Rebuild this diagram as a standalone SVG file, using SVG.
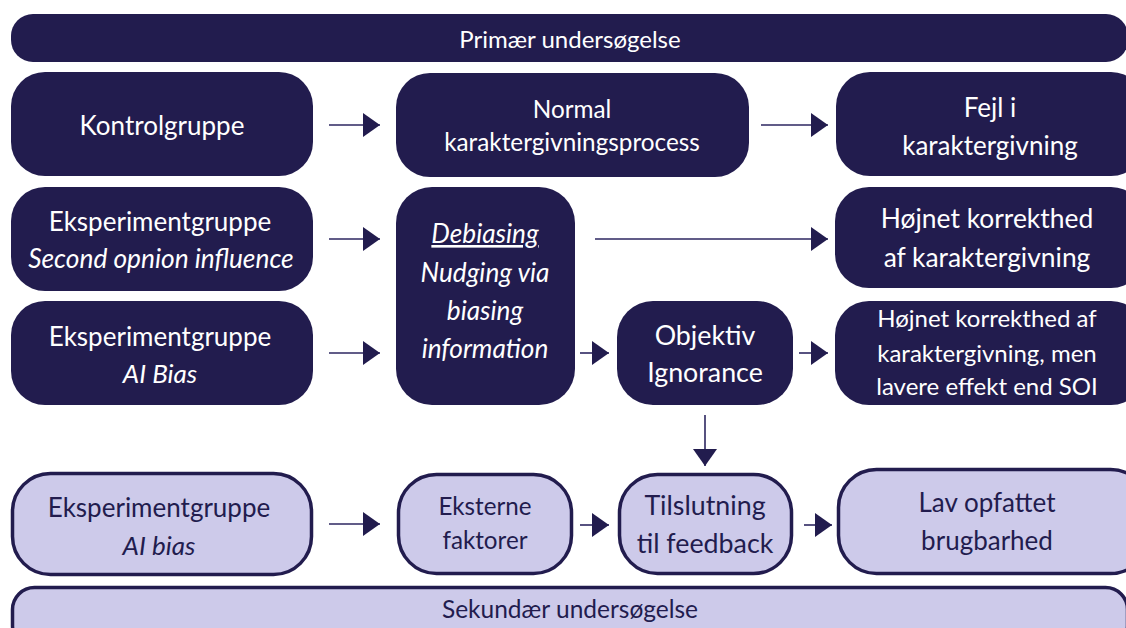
<svg xmlns="http://www.w3.org/2000/svg" width="1126" height="628" viewBox="0 0 1126 628">
<defs>
<style>
.dk{fill:#221c4e}
.lt{fill:#cdcaea;stroke:#221c4e;stroke-width:3.5}
text{font-family:Lato,"Liberation Sans",sans-serif;text-anchor:middle}
.w{fill:#ffffff}
.d{fill:#221c4e}
.i{font-style:italic}
.con{stroke:#2c2660;stroke-width:1.6;fill:none;marker-end:url(#ah)}
</style>
<marker id="ah" markerUnits="userSpaceOnUse" markerWidth="18" markerHeight="24" refX="17" refY="12" orient="auto" viewBox="0 0 18 24">
<path d="M0,0 L17,12 L0,24 Z" fill="#221c4e"/>
</marker>
</defs>
<rect width="1126" height="628" fill="#ffffff"/>

<g id="primaer">
<rect class="dk" x="11" y="14" width="1117" height="48" rx="22"/>
<text class="w" x="570" y="48" font-size="24">Primær undersøgelse</text>
</g>

<g id="kontrolgruppe">
<rect class="dk" x="11" y="72" width="302" height="104" rx="34"/>
<text class="w" x="162" y="135" font-size="26">Kontrolgruppe</text>
</g>

<g id="normal">
<rect class="dk" x="396" y="73" width="353" height="104" rx="34"/>
<text class="w" x="572" y="118" font-size="24.3">Normal</text>
<text class="w" x="572" y="151" font-size="24.3">karaktergivningsprocess</text>
</g>

<g id="fejl">
<rect class="dk" x="836" y="72" width="309" height="104" rx="34"/>
<text class="w" x="990" y="117" font-size="26">Fejl i</text>
<text class="w" x="990" y="155" font-size="26">karaktergivning</text>
</g>

<g id="eksp-soi">
<rect class="dk" x="11" y="187" width="302" height="104" rx="34"/>
<text class="w" x="160" y="231" font-size="26">Eksperimentgruppe</text>
<text class="w i" x="161" y="268" font-size="26.3">Second opnion influence</text>
</g>

<g id="eksp-ai">
<rect class="dk" x="11" y="301" width="302" height="104" rx="34"/>
<text class="w" x="160" y="346" font-size="26">Eksperimentgruppe</text>
<text class="w i" x="160" y="383" font-size="26">AI Bias</text>
</g>

<g id="debiasing">
<rect class="dk" x="396" y="187" width="179" height="218" rx="36"/>
<text class="w i" x="485" y="243" font-size="26.2" text-decoration="underline">Debiasing</text>
<text class="w i" x="485" y="282" font-size="26.2">Nudging via</text>
<text class="w i" x="485" y="320" font-size="26.2">biasing</text>
<text class="w i" x="485" y="358" font-size="26.2">information</text>
</g>

<g id="hoejnet1">
<rect class="dk" x="835" y="187" width="310" height="101" rx="34"/>
<text class="w" x="987" y="228" font-size="26.4">Højnet korrekthed</text>
<text class="w" x="987" y="267" font-size="26.4">af karaktergivning</text>
</g>

<g id="objektiv">
<rect class="dk" x="617" y="301" width="176" height="104" rx="36"/>
<text class="w" x="705" y="345" font-size="26.8">Objektiv</text>
<text class="w" x="705" y="382" font-size="26.8">Ignorance</text>
</g>

<g id="hoejnet2">
<rect class="dk" x="835" y="301" width="310" height="104" rx="34"/>
<text class="w" x="987" y="327" font-size="24">Højnet korrekthed af</text>
<text class="w" x="987" y="362" font-size="24">karaktergivning, men</text>
<text class="w" x="987" y="395" font-size="24">lavere effekt end SOI</text>
</g>

<g id="eksp-ai-bias">
<rect class="lt" x="12.5" y="473.5" width="299" height="101" rx="38"/>
<text class="d" x="159" y="517" font-size="26">Eksperimentgruppe</text>
<text class="d i" x="159" y="555" font-size="26">AI bias</text>
</g>

<g id="eksterne">
<rect class="lt" x="398.5" y="474.5" width="173" height="99" rx="38"/>
<text class="d" x="485" y="515" font-size="24.2">Eksterne</text>
<text class="d" x="485" y="549" font-size="24.2">faktorer</text>
</g>

<g id="tilslutning">
<rect class="lt" x="619.5" y="474.5" width="172" height="99" rx="38"/>
<text class="d" x="705" y="515" font-size="26.8">Tilslutning</text>
<text class="d" x="705" y="553" font-size="26.8">til feedback</text>
</g>

<g id="lav">
<rect class="lt" x="838.5" y="469.5" width="310" height="104" rx="38"/>
<text class="d" x="987" y="512" font-size="26">Lav opfattet</text>
<text class="d" x="987" y="550" font-size="26">brugbarhed</text>
</g>

<g id="sekundaer">
<rect class="lt" x="12.5" y="587.5" width="1115" height="60" rx="22"/>
<text class="d" x="570" y="618" font-size="24.5">Sekundær undersøgelse</text>
</g>

<g id="connectors">
<line class="con" x1="329" y1="125" x2="380" y2="125"/>
<line class="con" x1="761" y1="125" x2="828" y2="125"/>
<line class="con" x1="329" y1="239" x2="380" y2="239"/>
<line class="con" x1="329" y1="353" x2="380" y2="353"/>
<line class="con" x1="595" y1="239" x2="828" y2="239"/>
<line class="con" x1="580" y1="353" x2="609" y2="353"/>
<line class="con" x1="799" y1="353" x2="828" y2="353"/>
<line class="con" x1="705" y1="415" x2="705" y2="466"/>
<line class="con" x1="329" y1="524" x2="380" y2="524"/>
<line class="con" x1="580" y1="525" x2="609" y2="525"/>
<line class="con" x1="804" y1="525" x2="832" y2="525"/>
</g>
</svg>
